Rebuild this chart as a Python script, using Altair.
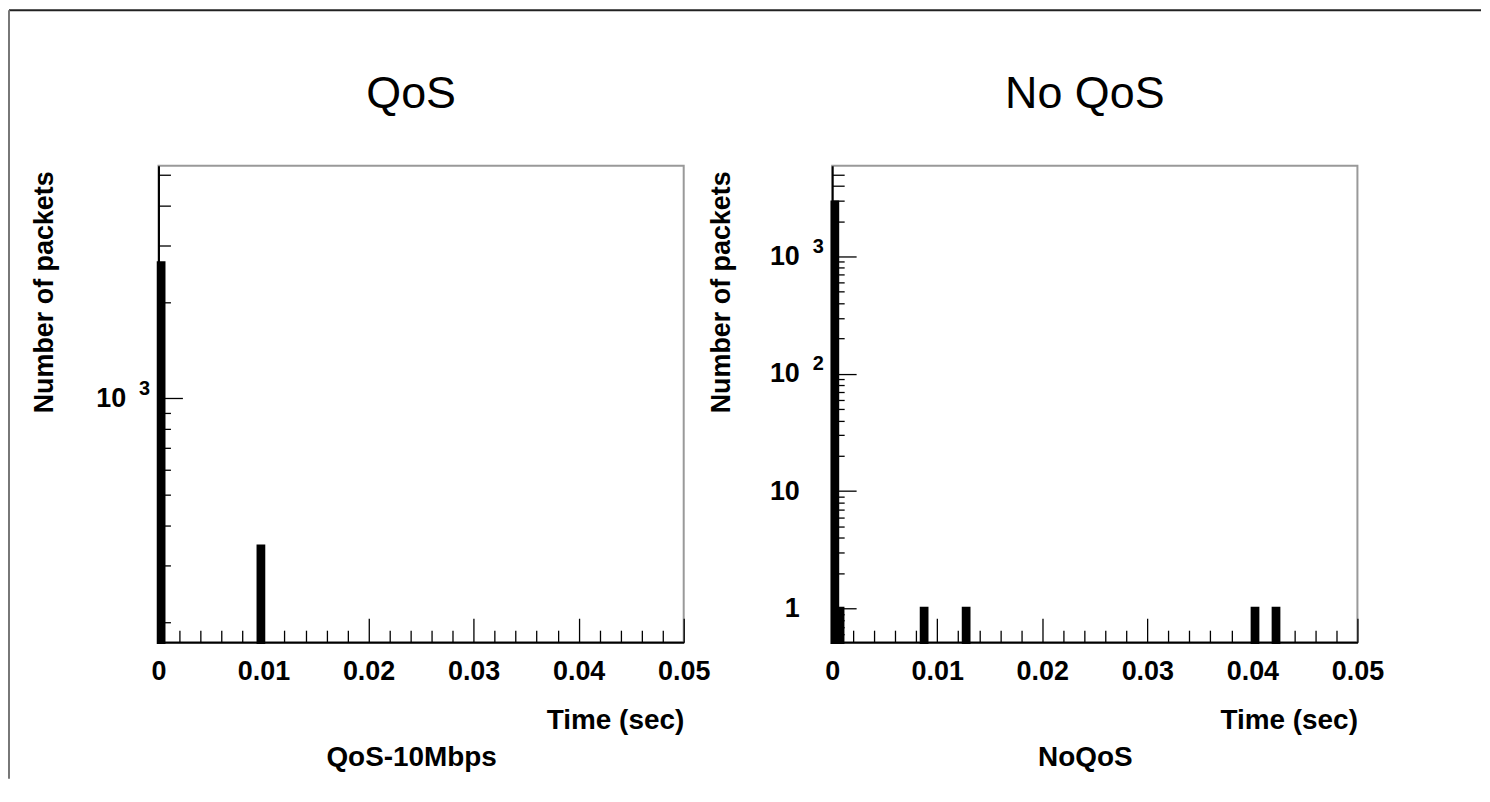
import altair as alt
import pandas as pd

# ---------------- data ----------------
# QoS panel (histogram bins, seconds / packet counts)
qos_bin_start = [0.0, 0.0095]
qos_bin_end = [0.0005, 0.0100]
qos_counts = [2650, 345]
qos_y_domain = [173, 5330]
qos_y_major = [1000]
qos_y_major_labels = ["10"]
qos_y_major_exponents = ["3"]
qos_y_minor = [200, 300, 400, 500, 600, 700, 800, 900, 2000, 3000, 4000, 5000]

# No QoS panel
noqos_bin_start = [0.0, 0.0005, 0.0085, 0.0125, 0.0400, 0.0420]
noqos_bin_end = [0.0005, 0.0010, 0.0090, 0.0130, 0.0405, 0.0425]
noqos_counts = [2900, 1, 1, 1, 1, 1]
noqos_y_domain = [0.517, 5920]
noqos_y_major = [1, 10, 100, 1000]
noqos_y_major_labels = ["1", "10", "10", "10"]
noqos_y_major_exponents = ["", "", "2", "3"]
noqos_y_minor = [0.6, 0.7, 0.8, 0.9,
                 2, 3, 4, 5, 6, 7, 8, 9,
                 20, 30, 40, 50, 60, 70, 80, 90,
                 200, 300, 400, 500, 600, 700, 800, 900,
                 2000, 3000, 4000, 5000]

# shared x axis
x_domain = [0.0, 0.05]
x_major = [0.0, 0.01, 0.02, 0.03, 0.04, 0.05]
x_major_labels = ["0", "0.01", "0.02", "0.03", "0.04", "0.05"]
x_minor = [0.002, 0.004, 0.006, 0.008,
           0.012, 0.014, 0.016, 0.018,
           0.022, 0.024, 0.026, 0.028,
           0.032, 0.034, 0.036, 0.038,
           0.042, 0.044, 0.046, 0.048]

panel_titles = ["QoS", "No QoS"]
panel_subtitles = ["QoS-10Mbps", "NoQoS"]
x_title = "Time (sec)"
y_title = "Number of packets"

# ---------------- layout constants ----------------
W, H, S = 527, 478, 149
FONT = "Liberation Sans"
MAJ, MIN = 24, 12


def label_expr(values, labels):
    expr = "''"
    for v, l in reversed(list(zip(values, labels))):
        expr = f"datum.value == {v} ? '{l}' : {expr}"
    return expr


def panel(title, subtitle, start, end, counts, ydom, ymaj, ymaj_labels, ymaj_exp,
          ymin, ytitle_x):
    df = pd.DataFrame({"start": start, "end": end, "count": counts,
                       "base": [ydom[0]] * len(counts)})
    xs = alt.Scale(domain=x_domain, nice=False, zero=False)
    ys = alt.Scale(type="log", domain=ydom, nice=False)
    base = alt.Chart(df)

    bars = base.mark_rect(color="black", stroke="black", strokeWidth=3.5).encode(
        x=alt.X("start:Q", scale=xs, axis=alt.Axis(
            orient="bottom", values=x_major, labelExpr=label_expr(x_major, x_major_labels),
            ticks=False, tickSize=0, grid=False, labelPadding=37, labelBaseline="alphabetic",
            labelFont=FONT, labelFontSize=27, labelFontWeight="bold", labelColor="black",
            labelFlush=False, labelOverlap=False,
            domain=True, domainColor="black", domainWidth=2,
            title=x_title, titleFont=FONT, titleFontSize=28, titleFontWeight="bold",
            titleColor="black", titleAnchor="end", titleAlign="right",
            titleBaseline="alphabetic", titleX=W, titleY=87)),
        x2="end:Q",
        y=alt.Y("count:Q", scale=ys, axis=alt.Axis(
            orient="left", values=ymaj, labelExpr=label_expr(ymaj, ymaj_labels),
            ticks=False, tickSize=0, grid=False, labelPadding=33, labelBaseline="middle",
            labelFont=FONT, labelFontSize=27, labelFontWeight="bold", labelColor="black",
            labelFlush=False, labelOverlap=False,
            domain=True, domainColor="black", domainWidth=2,
            title=y_title, titleFont=FONT, titleFontSize=27, titleFontWeight="bold",
            titleColor="black", titleAngle=270, titleAlign="right",
            titleBaseline="alphabetic", titleX=ytitle_x, titleY=5)),
        y2="base:Q",
    )

    # exponents of the power-of-ten labels (drawn as raised small digits)
    exps = base.mark_rect(opacity=0).encode(
        y=alt.Y("count:Q", scale=ys, axis=alt.Axis(
            orient="left", values=ymaj, labelExpr=label_expr(ymaj, ymaj_exp),
            ticks=False, tickSize=0, grid=False, domain=False, labelPadding=9,
            labelBaseline="middle", labelOffset=-10,
            labelFont=FONT, labelFontSize=20, labelFontWeight="bold", labelColor="black",
            labelFlush=False, labelOverlap=False, title="")),
        y2="base:Q",
    )

    major = base.mark_rect(opacity=0).encode(
        x=alt.X("start:Q", scale=xs, axis=alt.Axis(
            orient="bottom", values=x_major, labels=False, domain=False, grid=False,
            ticks=True, tickSize=MAJ, offset=-MAJ, tickColor="black", tickWidth=1.3,
            title=subtitle, titleFont=FONT, titleFontSize=28, titleFontWeight="bold",
            titleColor="black", titleAnchor="middle", titleAlign="center",
            titleBaseline="alphabetic", titleX=W / 2 - 10, titleY=148)),
        x2="end:Q",
        y=alt.Y("count:Q", scale=ys, axis=alt.Axis(
            orient="left", values=ymaj, labels=False, domain=False, grid=False,
            ticks=True, tickSize=MAJ, offset=-MAJ, tickColor="black", tickWidth=1.3,
            title="")),
        y2="base:Q",
    )

    minor = base.mark_rect(opacity=0).encode(
        x=alt.X("start:Q", scale=xs, axis=alt.Axis(
            orient="bottom", values=x_minor, labels=False, domain=False, grid=False,
            ticks=True, tickSize=MIN, offset=-MIN, tickColor="black", tickWidth=1.3,
            title="")),
        x2="end:Q",
        y=alt.Y("count:Q", scale=ys, axis=alt.Axis(
            orient="left", values=ymin, labels=False, domain=False, grid=False,
            ticks=True, tickSize=MIN, offset=-MIN, tickColor="black", tickWidth=1.3,
            title="")),
        y2="base:Q",
    )

    return alt.layer(minor, major, exps, bars).resolve_axis(
        x="independent", y="independent"
    ).properties(
        width=W, height=H,
        title=alt.TitleParams(text=title, font=FONT, fontSize=45, fontWeight="normal",
                              color="black", anchor="middle", frame="group",
                              baseline="alphabetic", offset=13, dx=-10),
    )


left = panel(panel_titles[0], panel_subtitles[0], qos_bin_start, qos_bin_end, qos_counts,
             qos_y_domain, qos_y_major, qos_y_major_labels, qos_y_major_exponents,
             qos_y_minor, -106)
right = panel(panel_titles[1], panel_subtitles[1], noqos_bin_start, noqos_bin_end,
              noqos_counts, noqos_y_domain, noqos_y_major, noqos_y_major_labels,
              noqos_y_major_exponents, noqos_y_minor, -103)

# outer picture frame (top and left edges), drawn from a thin helper view placed first
frame_df = pd.DataFrame({"k": [0]})
top_line = alt.Chart(frame_df).mark_rule(color="#222222", strokeWidth=2).encode(
    x=alt.value(0), x2=alt.value(1477), y=alt.value(-156))
left_line = alt.Chart(frame_df).mark_rule(color="#777777", strokeWidth=2).encode(
    x=alt.value(0), y=alt.value(-156), y2=alt.value(615))
frame = alt.layer(top_line, left_line).properties(
    width=1, height=H, view=alt.ViewBackground(strokeOpacity=0))

chart = alt.hconcat(frame, left, right, spacing=S, bounds="flush").properties(
    padding=0, background="white"
).configure_view(stroke="#999999", strokeWidth=2)

chart.save("out.html", embed_options={"renderer": "svg", "actions": False})
